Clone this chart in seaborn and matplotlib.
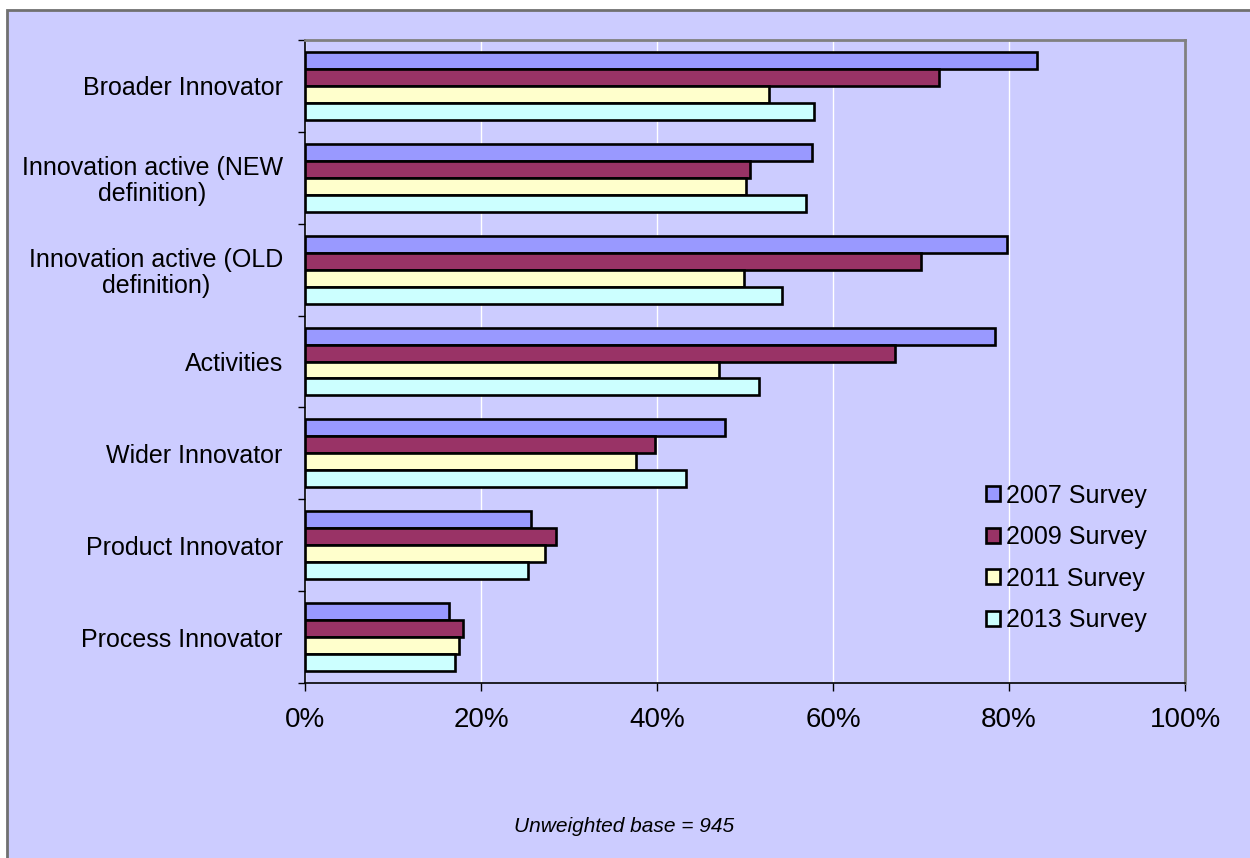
import matplotlib
matplotlib.use("Agg")
import matplotlib.pyplot as plt
from matplotlib.patches import Patch, Rectangle
from matplotlib.ticker import FixedLocator, PercentFormatter
import pandas as pd
import seaborn as sns

# ---- data -------------------------------------------------------------
categories = [
    "Broader Innovator",
    "Innovation active (NEW\ndefinition)",
    "Innovation active (OLD\ndefinition)",
    "Activities",
    "Wider Innovator",
    "Product Innovator",
    "Process Innovator",
]
surveys = ["2007 Survey", "2009 Survey", "2011 Survey", "2013 Survey"]
survey_2007 = [83.2, 57.6, 79.8, 78.4, 47.7, 25.7, 16.4]
survey_2009 = [72.0, 50.6, 70.0, 67.0, 39.8, 28.5, 17.9]
survey_2011 = [52.7, 50.1, 49.9, 47.1, 37.6, 27.3, 17.5]
survey_2013 = [57.8, 56.9, 54.2, 51.6, 43.3, 25.3, 17.1]
x_ticks = [0, 20, 40, 60, 80, 100]
footnote = "Unweighted base = 945"

colors = ["#9999FF", "#993366", "#FFFFCC", "#CCFFFF"]
bg = "#CCCCFF"

rows = []
for name, vals in zip(surveys, [survey_2007, survey_2009, survey_2011, survey_2013]):
    for cat, v in zip(categories, vals):
        rows.append({"category": cat, "survey": name, "value": v})
df = pd.DataFrame(rows)

# ---- style ------------------------------------------------------------
sns.set_style("white")
plt.rcParams["font.family"] = ["Liberation Sans", "DejaVu Sans"]
plt.rcParams["text.color"] = "black"
plt.rcParams["xtick.color"] = "black"
plt.rcParams["ytick.color"] = "black"
plt.rcParams["xtick.labelcolor"] = "black"
plt.rcParams["ytick.labelcolor"] = "black"

fig = plt.figure(figsize=(12.5, 8.58), dpi=100)
fig.patch.set_facecolor("white")
# chart area background with its frame on the left and top
fig.patches.append(Rectangle((7 / 1250, -0.05), 1.1, 1 - 9.5 / 858 + 0.05,
                             transform=fig.transFigure, facecolor=bg,
                             edgecolor="#707070", linewidth=2, zorder=-10))

ax = fig.add_axes([305 / 1250, 1 - 683 / 858, 880 / 1250, 643 / 858])
ax.set_zorder(1)
ax.set_facecolor(bg)

sns.barplot(data=df, y="category", x="value", hue="survey", order=categories,
            hue_order=surveys, palette=colors, orient="h", width=0.74,
            edgecolor="black", linewidth=1.9, saturation=1, legend=False,
            ax=ax, zorder=3)

# ---- axes -------------------------------------------------------------
ax.set_xlim(0, 100)
ax.set_ylim(6.5, -0.5)
ax.set_xticks(x_ticks)
ax.xaxis.set_major_formatter(PercentFormatter(decimals=0))
ax.tick_params(axis="x", length=6, width=1, color="black", direction="out",
               labelsize=20, pad=11, bottom=True, labelcolor="black")
ax.set_yticks(range(len(categories)))
ax.set_yticklabels(categories, multialignment="center", linespacing=1.1)
ax.tick_params(axis="y", which="major", length=0, labelsize=18, pad=16,
               labelcolor="black")
ax.yaxis.set_minor_locator(FixedLocator([i - 0.5 for i in range(len(categories) + 1)]))
ax.tick_params(axis="y", which="minor", length=5, width=1, color="black",
               direction="out", left=True)
ax.set_xlabel("")
ax.set_ylabel("")

ax.grid(axis="x", color="white", linewidth=1, zorder=1)
ax.grid(axis="y", visible=False)
ax.set_axisbelow(True)

for side in ["left", "bottom"]:
    ax.spines[side].set_color("black")
    ax.spines[side].set_linewidth(1.2)
for side in ["top", "right"]:
    ax.spines[side].set_color("#808080")
    ax.spines[side].set_linewidth(2)
for sp in ax.spines.values():
    sp.set_visible(True)

# ---- legend -----------------------------------------------------------
handles = [Patch(facecolor=c, edgecolor="black", linewidth=1.9) for c in colors]
leg = fig.legend(handles, surveys, loc="center left",
                 bbox_to_anchor=(986 / 1250, 1 - 558 / 858),
                 frameon=False, fontsize=18, handlelength=0.55,
                 handleheight=0.55, handletextpad=0.25, labelspacing=0.7,
                 borderpad=0, borderaxespad=0)
leg.set_zorder(5)

fig.text(624 / 1250, 1 - 826 / 858, footnote, ha="center", va="center",
         fontsize=15, style="italic", color="black")

fig.savefig("out.png", dpi=100, facecolor=fig.get_facecolor())
